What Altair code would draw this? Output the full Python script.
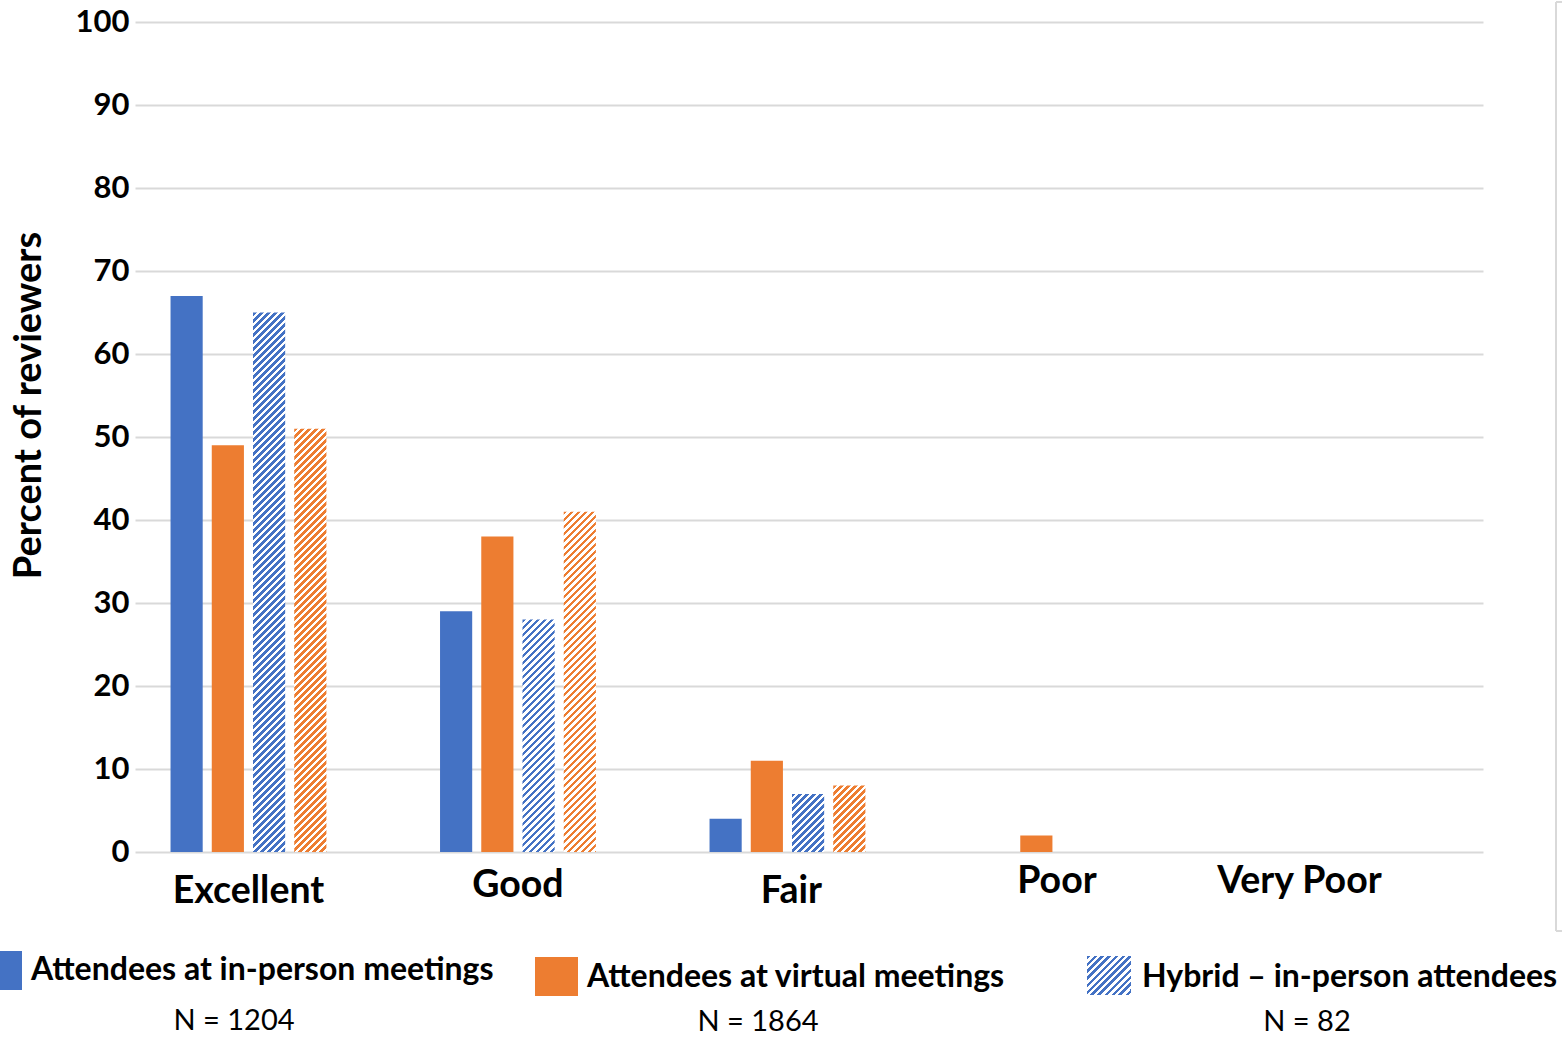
import altair as alt

# ---------------- data ----------------
categories = ["Excellent", "Good", "Fair", "Poor", "Very Poor"]
series = [
    "Attendees at in-person meetings",
    "Attendees at virtual meetings",
    "Hybrid – in-person attendees",
    "Hybrid – virtual attendees",
]
in_person = [67, 29, 4, 0, 0]
virtual = [49, 38, 11, 2, 0]
hybrid_in_person = [65, 28, 7, 0, 0]
hybrid_virtual = [51, 41, 8, 0, 0]
sample_sizes = ["N = 1204", "N = 1864", "N = 82"]
y_ticks = list(range(0, 101, 10))

# ---------------- styles / layout ----------------
BLUE = "#4472C4"
ORANGE = "#ED7D31"
GRID = "#D9D9D9"
series_colors = [BLUE, ORANGE, BLUE, ORANGE]
series_hatched = [False, False, True, True]

W, H = 1348, 830
n_cat = len(categories)
X_STEP = 269.5          # desired category step (px)
X_START = 31            # desired start of first band (px)
X_PAD_INNER = 0.388
X_PAD_OUTER = (W / X_STEP - n_cat + X_PAD_INNER) / 2
X_ALIGN = X_START / (W - X_STEP * (n_cat - X_PAD_INNER))
OFF_PAD_INNER, OFF_PAD_OUTER = 0.22, 0.11

band = X_STEP * (1 - X_PAD_INNER)
sub_step = band / (len(series) - OFF_PAD_INNER + 2 * OFF_PAD_OUTER)
BAR_W = sub_step * (1 - OFF_PAD_INNER)


def hatch(color, w, h, period=7.0):
    """Diagonal '///' hatch as a striped linear gradient (45 deg in pixel space)."""
    if h <= 0 or w <= 0:
        return color
    d = w + h
    L = (w * w + h * h) / d
    stops = []
    k = 0
    while k * period < d:
        a = round(k * period / d, 5)
        b = round(min((k * period + period / 2) / d, 1), 5)
        c = round(min((k + 1) * period / d, 1), 5)
        stops += [
            {"offset": a, "color": color},
            {"offset": b, "color": color},
            {"offset": b, "color": "white"},
            {"offset": c, "color": "white"},
        ]
        k += 1
    return {"gradient": "linear", "x1": 0, "y1": 0,
            "x2": round(w / L, 5), "y2": round(h / L, 5), "stops": stops}


values_by_series = [in_person, virtual, hybrid_in_person, hybrid_virtual]
records = []
for j, s in enumerate(series):
    for i, c in enumerate(categories):
        v = values_by_series[j][i]
        paint = hatch(series_colors[j], BAR_W, v / 100 * H) if series_hatched[j] else series_colors[j]
        records.append({"category": c, "series": s, "value": v, "paint": paint})

x_label_padding = {
    "condition": [
        {"test": "datum.value === 'Good'", "value": 14},
        {"test": "datum.value === 'Poor' || datum.value === 'Very Poor'", "value": 10},
    ],
    "value": 20,
}
x_label_offset = {
    "condition": [
        {"test": "datum.value === 'Very Poor'", "value": -27},
        {"test": "datum.value === 'Fair'", "value": 4},
    ],
    "value": 0,
}

bars = alt.Chart(alt.Data(values=records)).mark_bar().encode(
    x=alt.X(
        "category:N",
        sort=categories,
        scale=alt.Scale(domain=categories, paddingInner=X_PAD_INNER,
                        paddingOuter=X_PAD_OUTER, align=X_ALIGN),
        axis=alt.Axis(title=None, domain=False, ticks=False, grid=False, labelAngle=0,
                      labelFont="Lato", labelFontWeight="bold", labelFontSize=37.5,
                      labelColor="black", labelPadding=x_label_padding,
                      labelOffset=x_label_offset),
    ),
    xOffset=alt.XOffset(
        "series:N", sort=series,
        scale=alt.Scale(domain=series, paddingInner=OFF_PAD_INNER, paddingOuter=OFF_PAD_OUTER),
    ),
    y=alt.Y(
        "value:Q",
        scale=alt.Scale(domain=[0, 100], nice=False),
        axis=alt.Axis(values=y_ticks, title="Percent of reviewers", grid=True,
                      gridColor=GRID, gridWidth=2, domain=False, ticks=False,
                      labelFont="Lato", labelFontWeight="bold", labelFontSize=31,
                      labelColor="black", labelPadding=6,
                      titleFont="Lato", titleFontWeight="bold", titleFontSize=38,
                      titleColor="black", titleX=-106, titleY=383, titleAngle=270,
                      titleAlign="center", titleBaseline="middle"),
    ),
    fill=alt.Fill("paint:N", scale=None),
)

# ---------------- custom legend (layout in plot-area pixels) ----------------
legend_layout = [
    # swatch x0, x1, y0, y1, label x, label y, N x, N y
    (-152, -113, 929, 968, -104, 948, 99, 999),
    (400, 443, 935, 974, 452, 955, 623, 1000),
    (952, 996, 934, 973, 1007, 955, 1172, 1000),
]
layers = [bars]
for j, (sx0, sx1, sy0, sy1, tx, ty, nx, ny) in enumerate(legend_layout):
    data = alt.Data(values=[{"label": series[j], "n": sample_sizes[j]}])
    swatch_fill = hatch(series_colors[j], sx1 - sx0, sy1 - sy0) if series_hatched[j] else series_colors[j]
    layers.append(alt.Chart(data).mark_rect().encode(
        x=alt.value(sx0), x2=alt.value(sx1), y=alt.value(sy0), y2=alt.value(sy1),
        fill=alt.value(swatch_fill)))
    layers.append(alt.Chart(data).mark_text(
        align="left", baseline="middle", font="Lato", fontWeight="bold",
        fontSize=32, color="black").encode(
        x=alt.value(tx), y=alt.value(ty), text="label:N"))
    layers.append(alt.Chart(data).mark_text(
        align="center", baseline="middle", font="Lato", fontWeight="normal",
        fontSize=29, color="black").encode(
        x=alt.value(nx), y=alt.value(ny), text="n:N"))

# frame edge at right
frame_data = alt.Data(values=[{"k": 0}])
layers.append(alt.Chart(frame_data).mark_rule(color=GRID, strokeWidth=2).encode(
    x=alt.value(1421), y=alt.value(-20), y2=alt.value(909)))
layers.append(alt.Chart(frame_data).mark_rule(color=GRID, strokeWidth=2).encode(
    x=alt.value(1421), x2=alt.value(1430), y=alt.value(-20)))
layers.append(alt.Chart(frame_data).mark_rule(color=GRID, strokeWidth=2).encode(
    x=alt.value(1421), x2=alt.value(1430), y=alt.value(909)))

chart = alt.layer(*layers).properties(
    width=W, height=H,
    autosize=alt.AutoSizeParams(type="none"),
    padding={"left": 135, "top": 22, "right": 79, "bottom": 185},
    background="white",
).configure(font="Lato").configure_view(stroke=None)

chart.save("out.html", embed_options={"renderer": "svg", "actions": False})
